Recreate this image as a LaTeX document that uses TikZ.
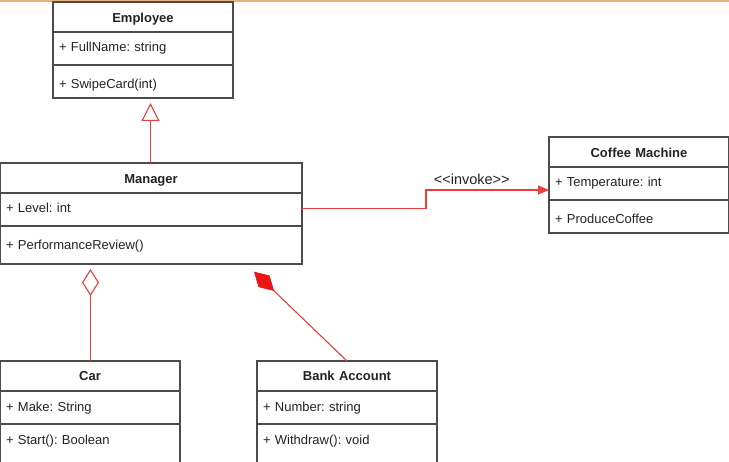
\documentclass[tikz,border=0pt]{standalone}
\usepackage{fontspec}
\setmainfont{Liberation Sans}
\usetikzlibrary{positioning,arrows.meta}

\definecolor{umlline}{RGB}{75,75,75}
\definecolor{umltext}{RGB}{35,35,35}
\definecolor{umlred}{RGB}{232,62,62}
\definecolor{compred}{RGB}{236,22,22}
\definecolor{topbar}{RGB}{236,176,120}

\tikzset{
  umlbox/.style={draw=umlline, line width=1.2pt, fill=white, outer sep=0pt,
    inner xsep=6pt, inner ysep=0pt, text width=#1},
  umlhead/.style={umlbox=#1, minimum height=30pt, align=center, font=\bfseries,
    text height=13.2pt, text depth=2.8pt},
  umlattr/.style={umlbox=#1, minimum height=33pt, align=left,
    text height=10pt, text depth=4pt},
  umlmeth/.style={umlbox=#1, minimum height=33pt, align=left,
    text height=18pt, text depth=3.6pt},
  assoc/.style={draw=umlred, line width=1.1pt},
}

\begin{document}
\fontsize{13}{15}\selectfont\frenchspacing
\begin{tikzpicture}[x=1pt, y=-1pt, every node/.append style={text=umltext}]
	\useasboundingbox (0,0) rectangle (729,462);
	\fill[topbar] (0,0) rectangle (729,2);

	% Employee
	\node[umlhead=168pt, anchor=north west] (emp) at (53,2) {Employee};
	\node[umlattr=168pt, below=0pt of emp] (emp-attr) {+ FullName: string};
	\node[umlmeth=168pt, below=0pt of emp-attr] (emp-meth) {+ SwipeCard(int)};

	% Manager
	\node[umlhead=290pt, anchor=north west] (mgr) at (0,163) {Manager};
	\node[umlattr=290pt, below=0pt of mgr] (mgr-attr) {+ Level: int};
	\node[umlmeth=290pt, below=0pt of mgr-attr, minimum height=38pt,
		text height=12.4pt, text depth=3pt] (mgr-meth) {+ PerformanceReview()};

	% Coffee Machine
	\node[umlhead=168pt, anchor=north west] (cof) at (549,137) {Coffee Machine};
	\node[umlattr=168pt, below=0pt of cof] (cof-attr) {+ Temperature: int};
	\node[umlmeth=168pt, below=0pt of cof-attr] (cof-meth) {+ ProduceCoffee};

	% Car
	\node[umlhead=168pt, anchor=north west, text height=11.6pt] (car) at (0,361) {Car};
	\node[umlattr=168pt, below=0pt of car, text height=13pt] (car-attr) {+ Make: String};
	\node[umlmeth=168pt, below=0pt of car-attr, minimum height=40pt,
		text height=9.4pt, text depth=9pt] (car-meth) {+ Start(): Boolean};

	% Bank Account
	\node[umlhead=168pt, anchor=north west, text height=11.6pt] (bank) at (257,361) {Bank Account};
	\node[umlattr=168pt, below=0pt of bank, text height=13pt] (bank-attr) {+ Number: string};
	\node[umlmeth=168pt, below=0pt of bank-attr, minimum height=40pt,
		text height=9.4pt, text depth=9pt] (bank-meth) {+ Withdraw(): void};

	% relations
	\draw[assoc, -{Triangle[open, length=18pt, width=18pt]}, shorten >=5pt]
		([xshift=-0.5pt]mgr.north) -- ([xshift=-0.5pt]mgr.north |- emp-meth.south);
	\draw[assoc, -{Triangle[length=11pt, width=9pt]}]
		([yshift=1pt]mgr-attr.east) -- ++(124,0) |- ([yshift=-6.5pt]cof-attr.west)
		node[pos=0.5, anchor=south west, xshift=3pt, font=\fontsize{14.5}{16}\selectfont] {<\kern0pt<invoke>\kern0pt>};
	\draw[assoc, -{Diamond[open, length=27pt, width=17pt]}, shorten >=5pt]
		([xshift=0.5pt]car.north) -- ([xshift=0.5pt]car.north |- mgr-meth.south);
	\coordinate (mgr-part) at ([xshift=246pt]mgr-meth.south west);
	\draw[assoc, -{Diamond[length=28pt, width=16pt, color=compred]}, shorten >=11pt]
		(bank.north) -- (mgr-part);
\end{tikzpicture}
\end{document}
